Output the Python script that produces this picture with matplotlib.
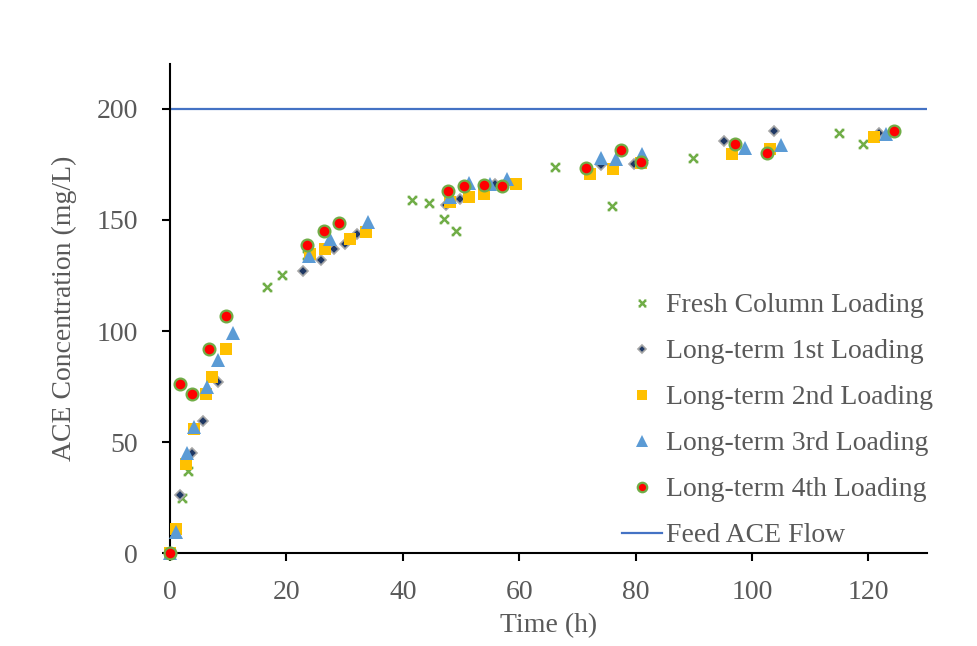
import matplotlib
matplotlib.use("Agg")
import matplotlib.pyplot as plt
from matplotlib.path import Path

# ---- data -------------------------------------------------------------
fresh_t = [0, 2.1, 3.1, 16.6, 19.2, 23.5, 41.5, 44.5, 47.1, 49.1, 66.1, 75.9, 89.8, 114.9, 119.0]
fresh_c = [0, 24.7, 37.0, 119.6, 125.4, 134.0, 159.0, 157.8, 150.2, 145.0, 173.8, 156.2, 178.0, 189.0, 184.3]

lt1_t = [0, 1.7, 3.7, 5.6, 8.3, 22.9, 26.0, 28.1, 30.0, 32.2, 47.5, 49.8, 55.9, 74.1, 79.8, 95.2, 103.7, 121.8]
lt1_c = [0, 26.2, 45.0, 59.3, 76.9, 127.0, 132.1, 136.8, 139.0, 143.8, 156.5, 159.2, 166.3, 174.5, 175.3, 185.4, 189.8, 189.2]

lt2_t = [0, 1.1, 2.7, 4.2, 6.2, 7.2, 9.7, 24.0, 26.6, 31.0, 33.6, 48.1, 51.4, 54.0, 59.5, 72.1, 76.1, 81.0, 96.5, 103.0, 120.9]
lt2_c = [0, 10.8, 40.0, 56.0, 71.6, 79.4, 91.7, 134.5, 137.1, 141.6, 144.5, 158.0, 160.3, 161.8, 166.0, 170.8, 172.7, 175.5, 179.5, 182.0, 187.2]

lt3_t = [0, 1.1, 2.9, 4.2, 6.3, 8.3, 10.8, 23.9, 27.5, 34.0, 48.1, 51.4, 54.9, 57.9, 74.0, 76.7, 81.1, 98.7, 105.0, 123.0]
lt3_c = [0, 9.4, 45.0, 57.0, 74.6, 86.9, 99.2, 133.6, 141.6, 149.0, 160.3, 166.6, 166.0, 168.5, 178.0, 177.5, 179.8, 182.5, 183.8, 188.8]

lt4_t = [0, 1.7, 3.7, 6.7, 9.7, 23.6, 26.5, 29.0, 47.7, 50.5, 53.9, 57.1, 71.5, 77.5, 80.9, 97.1, 102.5, 124.3]
lt4_c = [0, 76.1, 71.5, 92.1, 106.6, 138.9, 145.0, 148.6, 162.8, 165.1, 165.5, 165.1, 173.5, 181.3, 176.0, 184.0, 180.0, 189.8]

feed_t = [0, 130]
feed_c = [200, 200]

labels = ["Fresh Column Loading", "Long-term 1st Loading", "Long-term 2nd Loading",
          "Long-term 3rd Loading", "Long-term 4th Loading", "Feed ACE Flow"]
x_ticks = [0, 20, 40, 60, 80, 100, 120]
y_ticks = [0, 50, 100, 150, 200]

# ---- style ------------------------------------------------------------
plt.rcParams["font.family"] = ["Liberation Serif", "DejaVu Serif"]
plt.rcParams["font.size"] = 20
text_color = "#595959"

# cross marker with small horizontal serifs at the arm ends
s = 0.35
verts = [(-1, -1), (1, 1), (-1, 1), (1, -1),
         (-1 - s, 1), (-1 + s, 1), (1 - s, 1), (1 + s, 1),
         (-1 - s, -1), (-1 + s, -1), (1 - s, -1), (1 + s, -1)]
codes = [Path.MOVETO, Path.LINETO] * 6
xmark = Path(verts, codes)

fig = plt.figure(figsize=(9.77, 6.46), dpi=100)
ax = fig.add_axes([170 / 977, 1 - 553.3 / 646, (926.7 - 170) / 977, (553.3 - 64.3) / 646])

ax.plot(fresh_t, fresh_c, linestyle="none", marker=xmark, markersize=7,
        markeredgewidth=1.8, color="#70AD47", label=labels[0], zorder=3, clip_on=False)
ax.plot(lt1_t, lt1_c, linestyle="none", marker="D", markersize=5.5,
        markerfacecolor="#1F3864", markeredgecolor="#A6A6A6", markeredgewidth=1.2,
        label=labels[1], zorder=4, clip_on=False)
ax.plot(lt2_t, lt2_c, linestyle="none", marker="s", markersize=9,
        color="#FFC000", markeredgewidth=0, label=labels[2], zorder=5, clip_on=False)
ax.plot(lt3_t, lt3_c, linestyle="none", marker="^", markersize=10,
        color="#5B9BD5", markeredgewidth=0, label=labels[3], zorder=6, clip_on=False)
ax.plot(lt4_t, lt4_c, linestyle="none", marker="o", markersize=8.5,
        markerfacecolor="#FF0000", markeredgecolor="#70AD47", markeredgewidth=1.6,
        label=labels[4], zorder=7, clip_on=False)
ax.plot(feed_t, feed_c, color="#4472C4", linewidth=1.6, label=labels[5], zorder=2)

ax.set_xlim(0, 130)
ax.set_ylim(0, 220)
ax.set_xticks(x_ticks)
ax.set_yticks(y_ticks)

for side in ("top", "right"):
    ax.spines[side].set_visible(False)
for side in ("left", "bottom"):
    ax.spines[side].set_linewidth(1.5)
    ax.spines[side].set_color("black")

ax.tick_params(axis="both", direction="out", length=6, width=1.5, color="black",
               labelcolor=text_color, labelsize=20)
ax.tick_params(axis="y", pad=17)
ax.tick_params(axis="x", pad=13)

ax.set_xlabel("Time (h)", color=text_color, fontsize=20, labelpad=6)
ax.set_ylabel("ACE Concentration (mg/L)", color=text_color, fontsize=20, labelpad=14)

leg = ax.legend(loc="upper left", bbox_to_anchor=(622 / 977, 1 - 293 / 646),
                bbox_transform=fig.transFigure, frameon=False, fontsize=20,
                handlelength=1.45, handletextpad=0.12, labelspacing=0.74,
                borderpad=0, borderaxespad=0, markerscale=0.8)
for t in leg.get_texts():
    t.set_color(text_color)

fig.savefig("out.png", dpi=100)
